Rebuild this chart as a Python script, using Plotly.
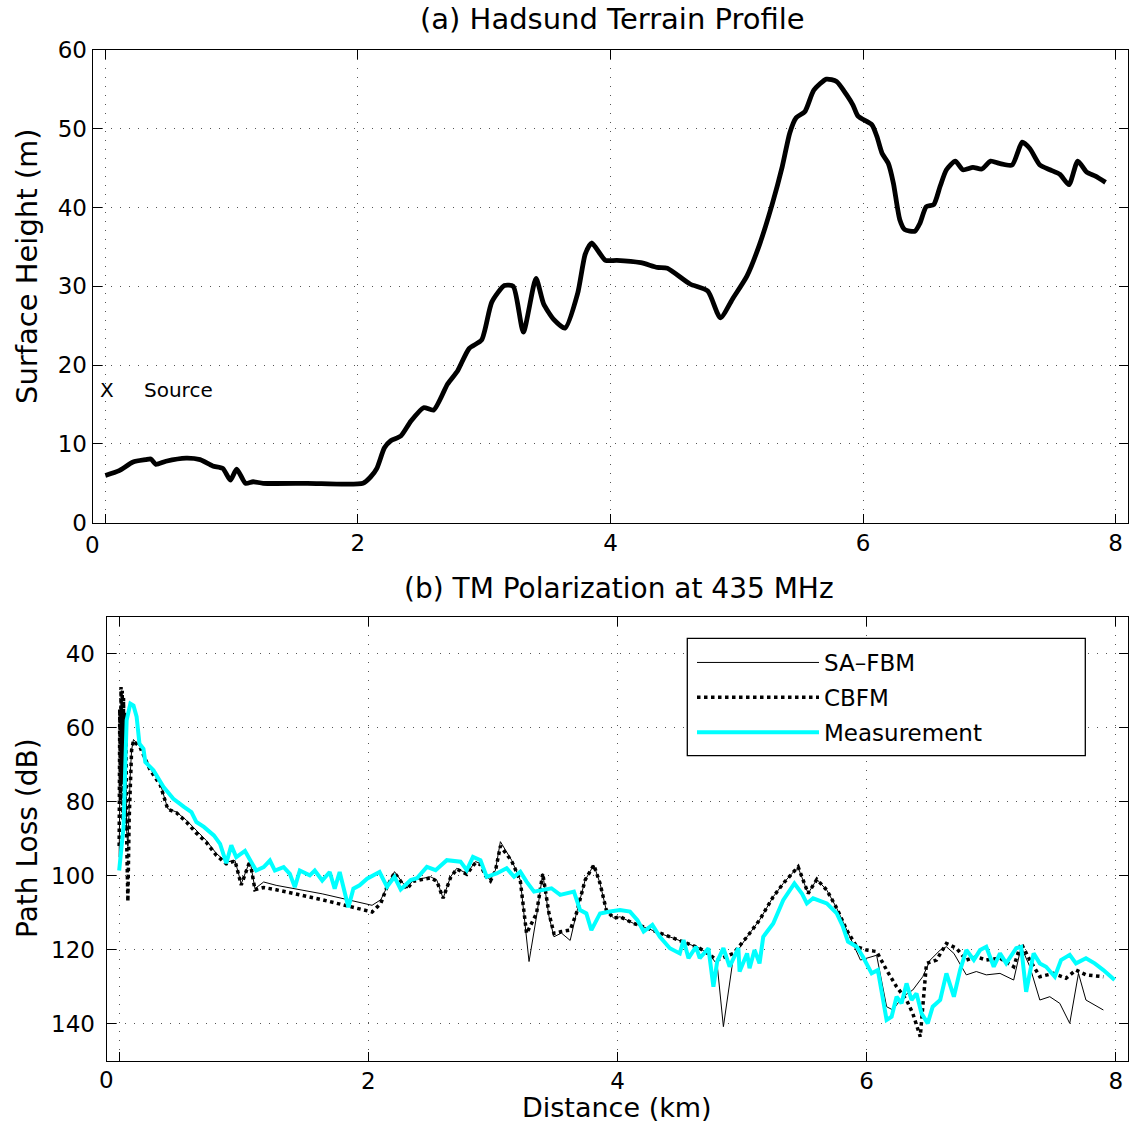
import plotly.graph_objects as go

# ---------------- data ----------------
terrain_km = [0.00, 0.11, 0.22, 0.32, 0.36, 0.40, 0.48, 0.64, 0.75, 0.85, 0.93, 0.99, 1.04, 1.11, 1.17, 1.25,
              1.60, 2.04, 2.10, 2.15, 2.21, 2.26, 2.34, 2.42, 2.52, 2.60, 2.71, 2.79, 2.88, 2.98, 3.06, 3.16,
              3.23, 3.31, 3.41, 3.47, 3.55, 3.64, 3.74, 3.80, 3.85, 3.96, 4.05, 4.24, 4.37, 4.45, 4.63, 4.77,
              4.87, 4.97, 5.08, 5.18, 5.28, 5.36, 5.42, 5.47, 5.54, 5.61, 5.71, 5.79, 5.87, 5.92, 5.96, 6.07,
              6.11, 6.15, 6.20, 6.24, 6.29, 6.33, 6.41, 6.45, 6.50, 6.56, 6.61, 6.66, 6.73, 6.79, 6.87, 6.94,
              7.01, 7.08, 7.18, 7.26, 7.32, 7.40, 7.48, 7.56, 7.63, 7.70, 7.77, 7.84, 7.92]
terrain_m = [6.0, 6.6, 7.7, 8.0, 8.1, 7.4, 7.8, 8.2, 8.0, 7.2, 6.9, 5.4, 6.8, 5.0, 5.2, 5.0,
             5.0, 5.0, 5.8, 6.9, 9.5, 10.4, 11.0, 12.9, 14.6, 14.3, 17.6, 19.3, 22.1, 23.2, 28.0, 30.1,
             30.0, 24.2, 31.0, 27.8, 25.8, 24.7, 29.1, 34.1, 35.5, 33.3, 33.3, 33.0, 32.4, 32.3, 30.3, 29.4,
             26.0, 28.5, 31.3, 35.3, 40.4, 45.2, 49.5, 51.4, 52.2, 54.9, 56.3, 56.0, 54.3, 53.0, 51.6, 50.5,
             49.0, 46.9, 45.6, 43.1, 38.5, 37.2, 37.0, 38.0, 40.1, 40.4, 42.7, 44.8, 45.9, 44.8, 45.1, 44.9,
             45.9, 45.6, 45.4, 48.3, 47.5, 45.4, 44.8, 44.2, 42.9, 45.9, 44.5, 44.0, 43.2]
source_km = 0.01
source_m = 16.9

sa_km = [0.0, 0.01, 0.02, 0.03, 0.04, 0.05, 0.06, 0.07, 0.09, 0.10, 0.115,
         0.17, 0.25, 0.33, 0.39, 0.46, 0.54, 0.62, 0.70, 0.78, 0.86,
         0.93, 0.98, 1.05, 1.09, 1.16, 1.26, 1.63, 2.03, 2.10, 2.15,
         2.21, 2.26, 2.31, 2.36, 2.43, 2.50, 2.55, 2.60, 2.66, 2.71,
         2.79, 2.86, 2.90, 2.94, 2.98, 3.02, 3.06, 3.15, 3.22, 3.29,
         3.35, 3.40, 3.45, 3.49, 3.55, 3.62, 3.67, 3.74, 3.81, 3.86,
         3.91, 3.97, 4.02, 4.13, 4.24, 4.34, 4.45, 4.56, 4.66, 4.74,
         4.80, 4.85, 4.93, 5.04, 5.14, 5.25, 5.33, 5.40, 5.45, 5.53,
         5.60, 5.68, 5.76, 5.84, 5.95, 6.08, 6.16, 6.21, 6.29, 6.37,
         6.45, 6.51, 6.59, 6.64, 6.70, 6.80, 6.88, 6.96, 7.07, 7.18,
         7.24, 7.31, 7.39, 7.47, 7.55, 7.63, 7.70, 7.76, 7.90]
sa_db = [95, 62, 50, 72, 55, 60, 88, 92, 72, 66, 63.2,
         65.2, 71.1, 75.1, 81.9, 82.8, 85.0, 87.7, 90.5, 94.0, 96.3,
         95.9, 102.2, 95.9, 103.5, 101.7, 102.6, 104.9, 108.0, 106.5, 103.0,
         98.9, 101.2, 103.4, 101.2, 100.7, 100.3, 101.2, 106.1, 100.3, 98.0,
         99.4, 96.2, 96.7, 99.8, 101.2, 98.5, 90.8, 95.8, 101.2, 123.2,
         111.0, 99.4, 111.0, 116.5, 115.5, 117.5, 110.2, 101.2, 97.1, 102.1,
         109.3, 111.5, 111.1, 112.9, 114.2, 115.6, 116.9, 118.3, 119.6, 121.4,
         124.0, 140.8, 122.0, 116.5, 112.0, 105.7, 102.1, 99.4, 97.8, 104.8,
         101.0, 103.9, 108.8, 114.7, 122.8, 121.5, 135.4, 136.3, 132.7, 130.9,
         127.3, 122.8, 120.1, 119.2, 121.0, 126.8, 125.9, 126.8, 126.4, 128.2,
         119.2, 124.6, 133.6, 132.7, 134.5, 139.9, 126.4, 133.6, 136.3]

cbfm_km = [0.0, 0.005, 0.01, 0.015, 0.02, 0.025, 0.03, 0.035, 0.04, 0.045,
           0.05, 0.055, 0.06, 0.07, 0.08, 0.09, 0.10,
           0.115, 0.17, 0.25, 0.33, 0.39, 0.46, 0.54, 0.62,
           0.70, 0.78, 0.86, 0.93, 0.98, 1.05, 1.09, 1.16, 1.26, 1.63,
           2.03, 2.10, 2.15, 2.21, 2.26, 2.31, 2.36, 2.43, 2.50, 2.55,
           2.60, 2.66, 2.71, 2.79, 2.86, 2.90, 2.94, 2.98, 3.02, 3.06,
           3.15, 3.22, 3.27, 3.35, 3.40, 3.45, 3.49, 3.55, 3.62, 3.67,
           3.74, 3.81, 3.86, 3.91, 3.97, 4.02, 4.13, 4.24, 4.34, 4.45,
           4.56, 4.66, 4.74, 4.80, 4.93, 5.04, 5.14, 5.25, 5.33, 5.40,
           5.45, 5.53, 5.60, 5.68, 5.76, 5.84, 5.92, 6.00, 6.08, 6.16,
           6.24, 6.32, 6.37, 6.43, 6.48, 6.56, 6.64, 6.72, 6.80, 6.88,
           6.96, 7.07, 7.18, 7.24, 7.31, 7.39, 7.50, 7.60, 7.68, 7.76,
           7.90]
cbfm_db = [92, 55, 80, 49, 75, 50, 85, 52, 70, 56,
           88, 58, 90, 107, 85, 72, 66,
           63.5, 65.5, 71.5, 75.5, 82.0, 83.0, 85.5, 88.5,
           91.0, 94.5, 96.8, 96.0, 102.5, 96.0, 103.8, 103.2, 103.8, 106.5,
           109.8, 107.5, 103.0, 99.2, 101.5, 103.6, 101.5, 101.0, 100.6, 101.5,
           106.1, 100.5, 98.2, 99.6, 96.5, 97.0, 100.0, 101.4, 98.7, 92.0,
           96.0, 101.4, 115.6, 110.2, 99.4, 110.2, 115.6, 115.1, 114.7, 110.2,
           101.2, 97.1, 102.1, 109.3, 111.5, 111.1, 112.9, 114.2, 115.6, 116.9,
           118.3, 119.6, 121.4, 122.8, 121.0, 116.5, 112.0, 105.7, 102.1, 99.4,
           97.6, 104.8, 101.0, 103.9, 108.8, 114.7, 119.2, 120.1, 120.5, 125.5,
           130.0, 133.6, 137.2, 143.5, 123.7, 122.8, 118.3, 119.6, 122.8, 121.9,
           122.8, 122.3, 124.6, 118.3, 122.8, 127.3, 126.4, 127.7, 125.5, 126.8,
           127.3]

meas_km = [0.0, 0.035, 0.06, 0.09, 0.115, 0.14, 0.163, 0.195, 0.21, 0.275,
           0.355, 0.435, 0.52, 0.58, 0.62, 0.68, 0.76, 0.81, 0.86, 0.90,
           0.94, 1.01, 1.06, 1.10, 1.16, 1.21, 1.25, 1.32, 1.37, 1.41,
           1.45, 1.53, 1.57, 1.63, 1.69, 1.73, 1.77, 1.80, 1.84, 1.88,
           1.93, 1.99, 2.04, 2.09, 2.15, 2.21, 2.26, 2.34, 2.39, 2.47,
           2.54, 2.63, 2.74, 2.79, 2.84, 2.90, 2.95, 3.03, 3.11, 3.17,
           3.22, 3.27, 3.33, 3.41, 3.47, 3.54, 3.65, 3.70, 3.75, 3.79,
           3.86, 3.94, 4.02, 4.10, 4.16, 4.21, 4.28, 4.34, 4.42, 4.50,
           4.53, 4.57, 4.63, 4.66, 4.73, 4.77, 4.80, 4.85, 4.90, 4.97,
           4.98, 5.04, 5.06, 5.10, 5.14, 5.17, 5.25, 5.33, 5.42, 5.48,
           5.52, 5.57, 5.68, 5.76, 5.81, 5.85, 5.92, 5.97, 6.04, 6.09,
           6.13, 6.16, 6.20, 6.24, 6.28, 6.32, 6.36, 6.40, 6.44, 6.49,
           6.53, 6.59, 6.64, 6.70, 6.75, 6.80, 6.86, 6.91, 6.96, 7.02,
           7.07, 7.12, 7.20, 7.24, 7.28, 7.34, 7.39, 7.44, 7.51, 7.56,
           7.63, 7.68, 7.76, 7.83, 7.90, 7.99]
meas_db = [98.6, 86.8, 58, 53.5, 54, 57, 64.3, 65.7, 69.3, 71.5,
           76, 79.2, 81.4, 82.8, 85.5, 86.8, 89.1, 91.4, 96.6, 91.8,
           95, 93.3, 96.3, 98.6, 97.7, 95.9, 98.6, 97.7, 99.5, 103.1,
           98.6, 99.9, 98.6, 101.3, 99.0, 103.5, 99.0, 103.1, 108.5, 103.5,
           102.6, 100.8, 99.9, 99.0, 103, 100.3, 103.7, 101.2, 100.7, 97.6,
           98.5, 95.8, 96.2, 98.5, 94.9, 95.8, 100.3, 99.4, 98.0, 100.3,
           98.9, 101.6, 104.3, 103.9, 103.4, 105.2, 104.3, 109.3, 110.2, 114.7,
           110.2, 109.7, 109.3, 109.7, 112.0, 115.1, 113.3, 116.5, 119.6, 121,
           117.4, 122.3, 119.2, 122.3, 119.6, 130, 123.2, 119.6, 124.6, 119.6,
           125.9, 121, 125, 120.1, 123.7, 116.5, 112.9, 106.6, 102.1, 104.8,
           107.5, 106.1, 107.5, 110.2, 113.8, 117.8, 119.2, 121.9, 126.4, 125.5,
           133.6, 139, 138.1, 132.7, 134.5, 129.1, 133.6, 131.8, 137.2, 139.9,
           135.4, 133.6, 126.4, 132.7, 125.5, 120.1, 122.8, 120.1, 119.2, 124.6,
           121, 123.7, 119.6, 119.2, 131.4, 121, 123.7, 124.6, 127.3, 122.8,
           121.4, 123.7, 122.3, 123.7, 125.5, 128.2]

x_ticks = [0, 2, 4, 6, 8]
x_ticktext = ["", "2", "4", "6", "8"]
height_ticks = [0, 10, 20, 30, 40, 50, 60]
loss_ticks = [40, 60, 80, 100, 120, 140]

# ---------------- figure ----------------
FONT = "DejaVu Sans"
W, H = 1132, 1126

fig = go.Figure()
fig.add_trace(go.Scatter(x=terrain_km, y=terrain_m, mode="lines", xaxis="x", yaxis="y",
                         line=dict(color="black", width=4.8, shape="spline", smoothing=0.6),
                         showlegend=False))
fig.add_trace(go.Scatter(x=sa_km, y=sa_db, mode="lines", name="SA\u2013FBM", xaxis="x2", yaxis="y2",
                         legendgroup="a", line=dict(color="black", width=1)))
fig.add_trace(go.Scatter(x=cbfm_km, y=cbfm_db, mode="lines", name="CBFM", xaxis="x2", yaxis="y2",
                         legendgroup="b", line=dict(color="black", width=3.5, dash="dot")))
fig.add_trace(go.Scatter(x=meas_km, y=meas_db, mode="lines", name="Measurement", xaxis="x2", yaxis="y2",
                         legendgroup="c", line=dict(color="#00FFFF", width=4)))

grid = dict(showgrid=True, gridcolor="#555", gridwidth=1, griddash="1px,8px", zeroline=False,
            showline=True, linecolor="black", linewidth=1.3, mirror="ticks", ticks="inside",
            ticklen=9, tickcolor="black", tickwidth=1, automargin=False,
            tickfont=dict(family=FONT, size=23, color="black"))

fig.update_layout(
    width=W, height=H, margin=dict(l=0, r=0, t=0, b=0),
    paper_bgcolor="white", plot_bgcolor="white",
    font=dict(family=FONT, color="black"),
    xaxis=dict(domain=[92.7 / W, 1128.3 / W], range=[-0.1, 8.1], anchor="y",
               tickvals=x_ticks, ticktext=x_ticktext, **grid),
    yaxis=dict(domain=[1 - 522.7 / H, 1 - 50 / H], range=[0, 60], anchor="x",
               tickvals=height_ticks, **grid),
    xaxis2=dict(domain=[106.7 / W, 1128.3 / W], range=[-0.1, 8.1], anchor="y2",
                tickvals=x_ticks, ticktext=x_ticktext, **grid),
    yaxis2=dict(domain=[1 - 1060.7 / H, 1 - 616.7 / H], range=[150, 30], anchor="x2",
                tickvals=loss_ticks, ticklabelstandoff=6, **grid),
    legend=dict(x=692 / W, y=1 - 641 / H, xanchor="left", yanchor="top",
                bgcolor="rgba(0,0,0,0)", borderwidth=0,
                font=dict(family=FONT, size=23, color="black"),
                traceorder="grouped", tracegroupgap=2, itemwidth=122),
    shapes=[dict(type="rect", xref="paper", yref="paper", layer="above",
                 x0=687.3 / W, x1=1085.3 / W, y0=1 - 755.7 / H, y1=1 - 638.3 / H,
                 fillcolor="white", line=dict(color="black", width=1.3))],
)

ann = [
    dict(text="(a) Hadsund Terrain Profile", xref="paper", yref="paper", x=612 / W, y=1 - 19 / H,
         showarrow=False, font=dict(size=29), xanchor="center", yanchor="middle"),
    dict(text="(b) TM Polarization at 435 MHz", xref="paper", yref="paper", x=619 / W, y=1 - 588 / H,
         showarrow=False, font=dict(size=28), xanchor="center", yanchor="middle"),
    dict(text="Surface Height (m)", xref="paper", yref="paper", x=27 / W, y=1 - 266 / H,
         showarrow=False, font=dict(size=29), textangle=-90, xanchor="center", yanchor="middle"),
    dict(text="Path Loss (dB)", xref="paper", yref="paper", x=27 / W, y=1 - 838 / H,
         showarrow=False, font=dict(size=28), textangle=-90, xanchor="center", yanchor="middle"),
    dict(text="Distance (km)", xref="paper", yref="paper", x=617 / W, y=1 - 1107 / H,
         showarrow=False, font=dict(size=27), xanchor="center", yanchor="middle"),
    dict(text="0", xref="x", yref="paper", x=-0.1, y=1 - 545 / H,
         showarrow=False, font=dict(size=23), xanchor="center", yanchor="middle"),
    dict(text="0", xref="x2", yref="paper", x=-0.1, y=1 - 1080 / H,
         showarrow=False, font=dict(size=23), xanchor="center", yanchor="middle"),
    dict(text="X", xref="x", yref="y", x=source_km, y=source_m,
         showarrow=False, font=dict(size=20), xanchor="center", yanchor="middle"),
    dict(text="Source", xref="x", yref="y", x=source_km + 0.28, y=source_m,
         showarrow=False, font=dict(size=20), xanchor="left", yanchor="middle"),
]
fig.update_layout(annotations=ann)

fig.write_html("out.html")
